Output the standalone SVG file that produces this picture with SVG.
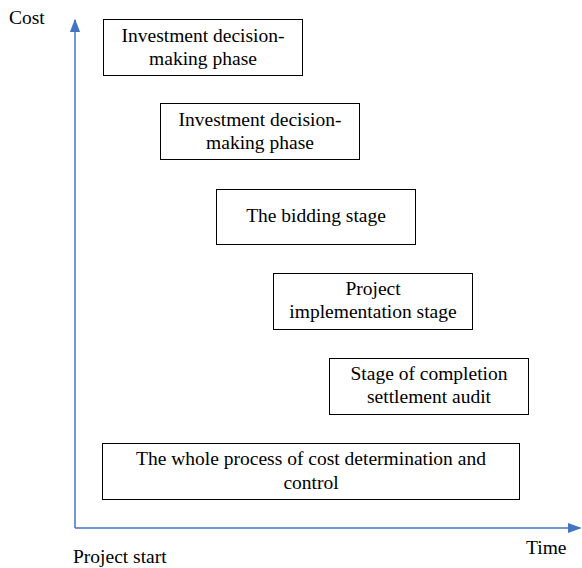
<svg xmlns="http://www.w3.org/2000/svg" width="582" height="568" viewBox="0 0 582 568">
<style>
.box{fill:#fff;stroke:#000;stroke-width:1}
text{font-family:'Liberation Serif','DejaVu Serif','Times New Roman',serif;font-size:19.5px;fill:#000}
.c{text-anchor:middle}
.axis{stroke:#4472C4;stroke-width:1.5;fill:none}
</style>
<defs>
<marker id="ah" viewBox="0 0 10 10" refX="9" refY="5" markerWidth="9" markerHeight="9" markerUnits="strokeWidth" orient="auto">
<path d="M0,1.2 L10,5 L0,8.8 z" fill="#4472C4"/>
</marker>
</defs>
<rect width="582" height="568" fill="#fff"/>
<g id="connectors">
<path class="axis" d="M75,528 L75,20" marker-end="url(#ah)"/>
<path class="axis" d="M75,528 L580,528" marker-end="url(#ah)"/>
</g>
<g id="labels">
<text x="9" y="24">Cost</text>
<text x="73" y="563">Project start</text>
<text x="526" y="554">Time</text>
</g>
<g id="n1"><rect class="box" x="103.5" y="19.5" width="199" height="56"/>
<text class="c" x="203" y="42">Investment decision-</text><text class="c" x="203" y="65">making phase</text></g>
<g id="n2"><rect class="box" x="160.5" y="103.5" width="199" height="56"/>
<text class="c" x="260" y="126">Investment decision-</text><text class="c" x="260" y="149">making phase</text></g>
<g id="n3"><rect class="box" x="216.5" y="189.5" width="199" height="55"/>
<text class="c" x="316" y="222">The bidding stage</text></g>
<g id="n4"><rect class="box" x="273.5" y="273.5" width="199" height="56"/>
<text class="c" x="373" y="295">Project</text><text class="c" x="373" y="318">implementation stage</text></g>
<g id="n5"><rect class="box" x="329.5" y="358.5" width="199" height="56"/>
<text class="c" x="429" y="380">Stage of completion</text><text class="c" x="429" y="403">settlement audit</text></g>
<g id="n6"><rect class="box" x="102.5" y="443.5" width="417" height="56"/>
<text class="c" x="311" y="465">The whole process of cost determination and</text><text class="c" x="311" y="489">control</text></g>
</svg>
